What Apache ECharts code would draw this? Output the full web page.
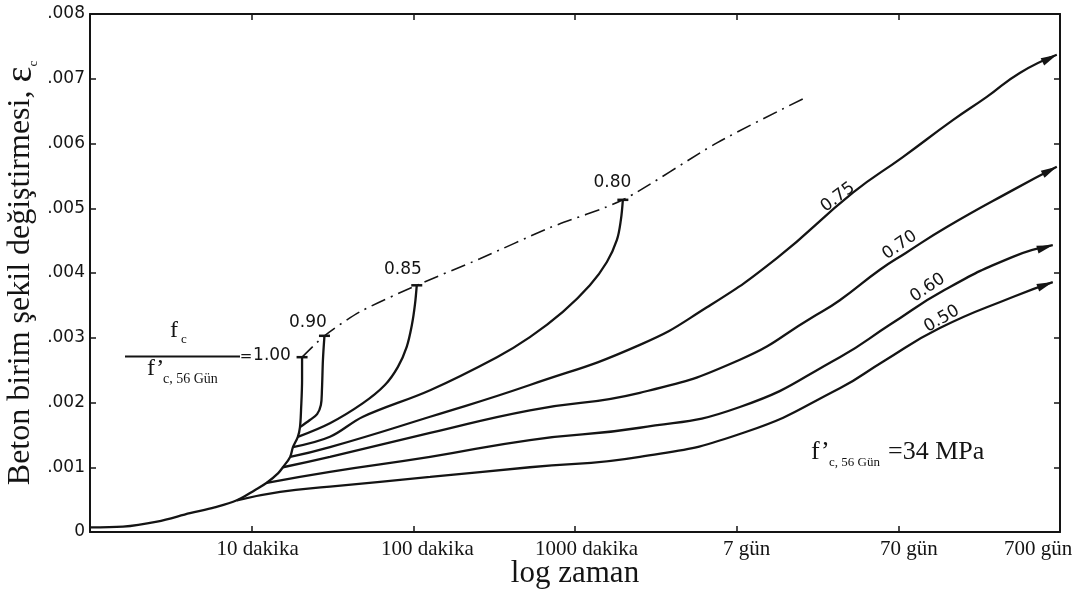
<!DOCTYPE html>
<html>
<head>
<meta charset="utf-8">
<script src="https://cdn.jsdelivr.net/npm/echarts@6/dist/echarts.min.js"></script>
<style>
html,body{margin:0;padding:0;background:#fff;}
#chart{width:1082px;height:591px;}
</style>
</head>
<body>
<div id="chart"></div>
<script>
// ---------- data (x: time in minutes, log axis; y: strain) ----------
const xTickNames = ['', '10 dakika', '100 dakika', '1000 dakika', '7 gün', '70 gün', '700 gün'];
const yAxisMin = 0, yAxisMax = 0.008, yAxisStep = 0.001;

const curve100 = [[1,0.00007],[1.6,0.000082],[2.6,0.00016],[4.15,0.00029],[5.9,0.00038],[8.1,0.00049],[10.5,0.00065],[12.4,0.00076],[14.6,0.00091],[15.6,0.00100],[17.3,0.00116],[18.0,0.00131],[19.3,0.00147],[19.9,0.00162],[20.2,0.00188],[20.5,0.00235],[20.5,0.00270]];
const curve090 = [[19.9,0.00162],[22.9,0.00173],[25.4,0.00182],[26.8,0.00196],[27.2,0.00219],[27.6,0.00266],[28.2,0.00303]];
const curve085 = [[19.3,0.00147],[30.5,0.00168],[48.8,0.00199],[66.7,0.00227],[80.3,0.00255],[91,0.00286],[98,0.00320],[102.3,0.00351],[105,0.00381]];
const curve080 = [[18.0,0.00131],[30.5,0.00147],[48.8,0.00178],[127,0.00219],[329,0.00270],[526,0.00301],[841,0.00340],[1236,0.00381],[1575,0.00417],[1816,0.00451],[1922,0.00482],[1977,0.00513]];
const curve075 = [[17.3,0.00116],[30.5,0.00131],[127,0.00178],[526,0.00227],[2518,0.00289],[6546,0.00347],[17740,0.00423],[52360,0.00524],[106600,0.00579],[217300,0.00636],[352600,0.00672],[563800,0.00709],[955400,0.00737]];
const curve070 = [[15.6,0.00100],[30.5,0.00116],[127,0.00153],[526,0.00188],[2518,0.00215],[10470,0.00266],[29600,0.00332],[43450,0.00358],[76900,0.00405],[111200,0.00431],[199500,0.00471],[510500,0.00528],[955400,0.00564]];
const curve060 = [[12.4,0.00076],[30.5,0.00093],[127,0.00116],[526,0.00142],[2518,0.00161],[10470,0.00193],[43450,0.00270],[88500,0.00320],[194000,0.00374],[510500,0.00425],[902300,0.00443]];
const curve050 = [[8.1,0.00049],[15.0,0.00062],[30.5,0.00070],[127,0.00085],[526,0.00100],[2518,0.00116],[11250,0.00154],[43450,0.00222],[80200,0.00263],[180600,0.00315],[510500,0.00363],[902300,0.00386]];
const failureEnvelope = [[20.5,0.00270],[28.2,0.00303],[46.7,0.00340],[105,0.00381],[258,0.00422],[700,0.00470],[1977,0.00513],[7550,0.00601],[27160,0.00672]];

// label annotations in data space [minutes, strain]
const curveLabels = [
  {text:'0.75', at:[42260,0.00517], rot:37},
  {text:'0.70', at:[102100,0.00443], rot:35},
  {text:'0.60', at:[152200,0.00377], rot:34},
  {text:'0.50', at:[185800,0.00329], rot:30},
  {text:'0.80', at:[1703,0.00539], rot:0},
  {text:'0.85', at:[86.2,0.00405], rot:0},
  {text:'0.90', at:[22.3,0.00324], rot:0}
];

// ---------- chart ----------
const INK = '#141414';
const curves = [
  {name:'1.00', data:curve100, end:'cap'},
  {name:'0.90', data:curve090, end:'cap'},
  {name:'0.85', data:curve085, end:'cap'},
  {name:'0.80', data:curve080, end:'cap'},
  {name:'0.75', data:curve075, end:'arrow'},
  {name:'0.70', data:curve070, end:'arrow'},
  {name:'0.60', data:curve060, end:'arrow'},
  {name:'0.50', data:curve050, end:'arrow'}
];

const chart = echarts.init(document.getElementById('chart'), null, {renderer:'canvas'});

const xLabelRich = {
  d1:{padding:[0,0,0,12]}, d2:{padding:[0,0,0,28]}, d3:{padding:[0,0,0,23]},
  d4:{padding:[0,0,0,20]}, d5:{padding:[0,0,0,21]}, d6:{padding:[0,44,0,0]}
};
Object.keys(xLabelRich).forEach(k => Object.assign(xLabelRich[k], {fontFamily:'Liberation Serif', fontSize:21, color:INK}));

function baseXAxis(pos) {
  return {
    type:'log', logBase:10, min:1, max:1e6, position:pos,
    axisLine:{show:true, onZero:false, lineStyle:{color:INK, width:2}},
    axisTick:{show:true, inside:true, length:6, lineStyle:{color:INK, width:1.5}},
    minorTick:{show:false}, splitLine:{show:false}
  };
}
function baseYAxis(pos) {
  return {
    type:'value', min:yAxisMin, max:yAxisMax, interval:yAxisStep, position:pos,
    axisLine:{show:true, onZero:false, lineStyle:{color:INK, width:2}},
    axisTick:{show:true, inside:true, length:6, lineStyle:{color:INK, width:1.5}},
    splitLine:{show:false}
  };
}

const xBottom = Object.assign(baseXAxis('bottom'), {
  axisLabel:{
    margin:7, showMinLabel:true, showMaxLabel:true, hideOverlap:false,
    formatter:function(v){
      const e = Math.round(Math.log10(v));
      if (e < 1 || e > 6) return '';
      return '{d' + e + '|' + xTickNames[e] + '}';
    },
    rich:xLabelRich
  },
  name:'log zaman', nameLocation:'middle', nameGap:26, nameMoveOverlap:false,
  nameTextStyle:{fontFamily:'Liberation Serif', fontSize:31, color:INK}
});
const xTop = Object.assign(baseXAxis('top'), {axisLabel:{show:false}});

const yLeft = Object.assign(baseYAxis('left'), {
  axisLabel:{
    margin:5, fontFamily:'DejaVu Sans', fontSize:17, color:INK,
    formatter:function(v){
      const n = Math.round(v * 1000);
      return n === 0 ? '0' : '.' + String(n).padStart(3, '0');
    }
  },
  name:'Beton birim şekil değiştirmesi, {e|ε}{s|c}', nameLocation:'middle', nameGap:50, nameMoveOverlap:false,
  nameTextStyle:{
    fontFamily:'Liberation Serif', fontSize:32, color:INK,
    rich:{
      e:{fontFamily:'Liberation Serif', fontSize:38, color:INK},
      s:{fontFamily:'Liberation Serif', fontSize:13, color:INK, verticalAlign:'bottom'}
    }
  }
});
const yRight = Object.assign(baseYAxis('right'), {axisLabel:{show:false}});

function makeSeries(c, endItem) {
  const n = c.data.length;
  return {
    type:'line', name:c.name, xAxisIndex:0, yAxisIndex:0,
    data:c.data.map((p, i) => (i === n - 1 && endItem) ? Object.assign({value:p}, endItem) : p),
    smooth:c.end === 'arrow' ? 0.5 : 0.35,
    symbol:'none', showSymbol:true, showAllSymbol:true,
    lineStyle:{color:INK, width:2.3}, itemStyle:{color:INK, borderWidth:0},
    silent:true, clip:false, z:3, emphasis:{disabled:true}
  };
}

const envelopeSeries = {
  type:'line', name:'envelope', xAxisIndex:0, yAxisIndex:0, data:failureEnvelope,
  smooth:0.25, symbol:'none', showSymbol:false,
  lineStyle:{color:INK, width:1.6, type:[15,6,2,6]},
  silent:true, z:2, emphasis:{disabled:true}
};

const option = {
  animation:false,
  backgroundColor:'#ffffff',
  grid:{left:90, right:22, top:14, bottom:59, containLabel:false, outerBoundsMode:'none'},
  xAxis:[xBottom, xTop],
  yAxis:[yLeft, yRight],
  series:curves.map(c => makeSeries(c, null)).concat([envelopeSeries])
};
chart.setOption(option);

// end markers: caps for failure curves, arrows for sustained curves (directions from the axis scales)
function endItemFor(c) {
  if (c.end === 'cap') {
    return {symbol:'rect', symbolSize:[11, 2.5]};
  }
  const n = c.data.length;
  const p1 = chart.convertToPixel({xAxisIndex:0, yAxisIndex:0}, c.data[n - 2]);
  const p2 = chart.convertToPixel({xAxisIndex:0, yAxisIndex:0}, c.data[n - 1]);
  const dx = p2[0] - p1[0], dy = p2[1] - p1[1];
  const len = Math.sqrt(dx * dx + dy * dy) || 1;
  const ang = Math.atan2(-dy, dx) * 180 / Math.PI;
  return {symbol:'triangle', symbolSize:[8, 16], symbolRotate:ang - 90,
          symbolOffset:[-8 * dx / len, -8 * dy / len]};
}

const graphics = [];
curveLabels.forEach(l => {
  const p = chart.convertToPixel({xAxisIndex:0, yAxisIndex:0}, l.at);
  graphics.push({type:'text', x:p[0], y:p[1], rotation:l.rot * Math.PI / 180, silent:true,
    style:{text:l.text, fill:INK, font:'17px "DejaVu Sans"', align:'center', verticalAlign:'middle'}});
});
// f_c / f'_c,56 Gün = 1.00 ratio legend
graphics.push(
  {type:'line', silent:true, shape:{x1:125, y1:356.5, x2:240, y2:356.5}, style:{stroke:INK, lineWidth:2}},
  {type:'text', x:170, y:343, silent:true, style:{text:'f', fill:INK, font:'24px "Liberation Serif"', align:'left', verticalAlign:'bottom'}},
  {type:'text', x:181, y:346, silent:true, style:{text:'c', fill:INK, font:'13px "Liberation Serif"', align:'left', verticalAlign:'bottom'}},
  {type:'text', x:147, y:381, silent:true, style:{text:'f’', fill:INK, font:'24px "Liberation Serif"', align:'left', verticalAlign:'bottom'}},
  {type:'text', x:163, y:386, silent:true, style:{text:'c, 56 Gün', fill:INK, font:'14px "Liberation Serif"', align:'left', verticalAlign:'bottom'}},
  {type:'text', x:246, y:357, silent:true, style:{text:'=', fill:INK, font:'15px "DejaVu Sans"', align:'center', verticalAlign:'middle'}},
  {type:'text', x:272, y:356, silent:true, style:{text:'1.00', fill:INK, font:'17px "DejaVu Sans"', align:'center', verticalAlign:'middle'}},
  // concrete strength note
  {type:'text', x:811, y:465, silent:true, style:{text:'f’', fill:INK, font:'26px "Liberation Serif"', align:'left', verticalAlign:'bottom'}},
  {type:'text', x:829, y:469, silent:true, style:{text:'c, 56 Gün', fill:INK, font:'13px "Liberation Serif"', align:'left', verticalAlign:'bottom'}},
  {type:'text', x:888, y:465, silent:true, style:{text:'=34 MPa', fill:INK, font:'26px "Liberation Serif"', align:'left', verticalAlign:'bottom'}}
);

chart.setOption({
  series:curves.map(c => makeSeries(c, endItemFor(c))).concat([envelopeSeries]),
  graphic:graphics
});
</script>
</body>
</html>
